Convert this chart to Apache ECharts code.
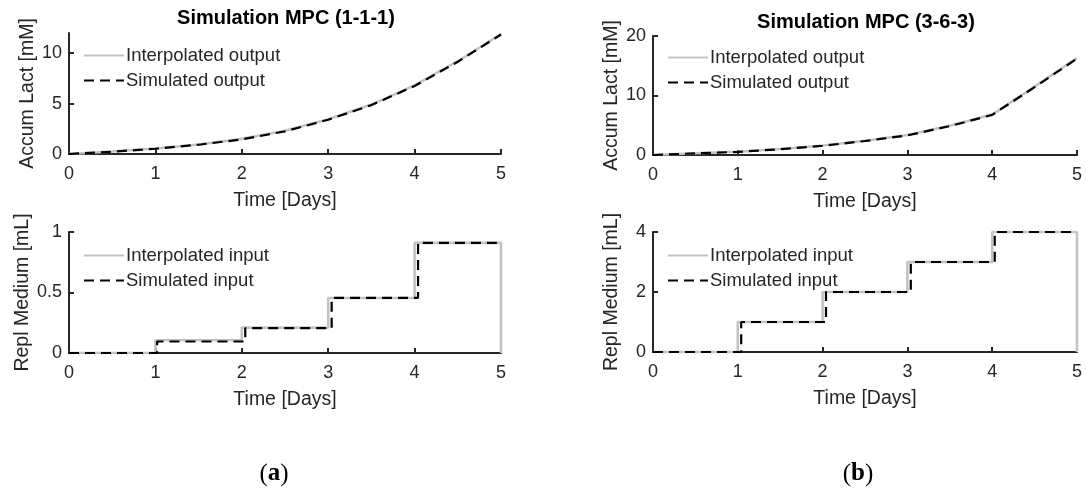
<!DOCTYPE html>
<html>
<head>
<meta charset="utf-8">
<script src="https://cdn.jsdelivr.net/npm/echarts@6/dist/echarts.min.js"></script>
<style>html,body{margin:0;padding:0;background:#fff}#c{width:1086px;height:490px}</style>
</head>
<body>
<div id="c"></div>
<script>
// ---- data ----
const days = [0, 0.5, 1, 1.5, 2, 2.5, 3, 3.5, 4, 4.5, 5];
const interpOutA = [0, 0.25, 0.55, 0.95, 1.5, 2.3, 3.45, 4.9, 6.8, 9.2, 11.9];
const simOutA    = [0, 0.23, 0.52, 0.92, 1.45, 2.25, 3.4, 4.85, 6.75, 9.15, 11.85];
const interpOutB = [0, 0.3, 0.55, 1.0, 1.6, 2.4, 3.35, 4.9, 6.8, 11.5, 16.3];
const simOutB    = [0, 0.28, 0.52, 0.97, 1.55, 2.35, 3.3, 4.85, 6.75, 11.4, 16.2];

const interpInDays = [0, 1, 2, 3, 4, 5, 5];
const interpInA = [0, 0.105, 0.21, 0.455, 0.91, 0.91, 0];
const simInDaysA = [0, 1.02, 2.04, 3.04, 4.04, 5];
const simInA = [0, 0.095, 0.205, 0.455, 0.91, 0.91];
const interpInB = [0, 1, 2, 3, 4, 4, 0];
const simInDaysB = [0, 1.04, 2.04, 3.04, 4.03, 5];
const simInB = [0, 1, 2, 3, 4, 4];

const xTicks = [0, 1, 2, 3, 4, 5];
const yTicksOutA = [0, 5, 10];
const yTicksInA = [0, 0.5, 1];
const yTicksOutB = [0, 10, 20];
const yTicksInB = [0, 2, 4];

const titles = ['Simulation MPC (1-1-1)', 'Simulation MPC (3-6-3)'];
const captions = ['a', 'b'];

// ---- styles ----
const FONT = 'Liberation Sans';
const TXT = '#262626';
const GRAY = '#c3c3c3';
const zip = (xs, ys) => xs.map((x, i) => [x, ys[i]]);

function xAx(gi) {
  return {
    type: 'value', gridIndex: gi, min: 0, max: 5, interval: 1,
    name: 'Time [Days]', nameLocation: 'middle', nameGap: 37,
    nameTextStyle: { fontFamily: FONT, fontSize: 19.5, color: TXT },
    axisLine: { show: true, onZero: false, lineStyle: { color: TXT, width: 2 } },
    axisTick: { show: true, inside: true, length: 5, lineStyle: { color: TXT, width: 2 },
      customValues: xTicks },
    axisLabel: { fontFamily: FONT, fontSize: 18, color: TXT, margin: 11, customValues: xTicks },
    splitLine: { show: false }
  };
}
function yAx(gi, name, max, ticks) {
  return {
    type: 'value', gridIndex: gi, min: 0, max: max,
    name: name, nameLocation: 'middle', nameGap: 31,
    nameTextStyle: { fontFamily: FONT, fontSize: 19.5, color: TXT },
    axisLine: { show: true, onZero: false, lineStyle: { color: TXT, width: 2 } },
    axisTick: { show: true, inside: true, length: 5, lineStyle: { color: TXT, width: 2 },
      customValues: ticks },
    axisLabel: { fontFamily: FONT, fontSize: 18, color: TXT, margin: 7, customValues: ticks },
    splitLine: { show: false }
  };
}
function interpSeries(name, gi, data, step) {
  return { type: 'line', name: name, xAxisIndex: gi, yAxisIndex: gi, data: data,
    step: step ? 'end' : false, symbol: 'none', smooth: false, animation: false,
    lineStyle: { color: GRAY, width: 2.6, type: 'solid' }, itemStyle: { color: GRAY }, z: 2 };
}
function simSeries(name, gi, data, step) {
  return { type: 'line', name: name, xAxisIndex: gi, yAxisIndex: gi, data: data,
    step: step ? 'end' : false, symbol: 'none', smooth: false, animation: false,
    lineStyle: { color: '#000', width: 2.2, type: [10, 6] }, itemStyle: { color: '#000' }, z: 3 };
}
function legend(left, top, names) {
  return { left: left, top: top, orient: 'vertical', itemWidth: 40, itemHeight: 14, itemGap: 6,
    padding: 0, data: names,
    itemStyle: { opacity: 0 },
    textStyle: { fontFamily: FONT, fontSize: 18.5, color: TXT, padding: [0, 0, 0, -3] },
    selectedMode: false };
}

const option = {
  animation: false,
  grid: [
    { left: 69, top: 33, width: 432, height: 121 },
    { left: 69, top: 232, width: 432, height: 121 },
    { left: 653, top: 36, width: 424, height: 119 },
    { left: 653, top: 232, width: 424, height: 120 }
  ],
  xAxis: [xAx(0), xAx(1), xAx(2), xAx(3)],
  yAxis: [
    yAx(0, 'Accum Lact [mM]', 12, yTicksOutA),
    yAx(1, 'Repl Medium [mL]', 1, yTicksInA),
    yAx(2, 'Accum Lact [mM]', 20, yTicksOutB),
    yAx(3, 'Repl Medium [mL]', 4, yTicksInB)
  ],
  legend: [
    legend(83, 46, ['Interpolated output', 'Simulated output']),
    legend(83, 246, ['Interpolated input', 'Simulated input']),
    legend(667, 48, ['Interpolated output', 'Simulated output']),
    legend(667, 246, ['Interpolated input', 'Simulated input'])
  ],
  series: [
    interpSeries('Interpolated output', 0, zip(days, interpOutA), false),
    simSeries('Simulated output', 0, zip(days, simOutA), false),
    interpSeries('Interpolated input', 1, zip(interpInDays, interpInA), true),
    simSeries('Simulated input', 1, zip(simInDaysA, simInA), true),
    interpSeries('Interpolated output', 2, zip(days, interpOutB), false),
    simSeries('Simulated output', 2, zip(days, simOutB), false),
    interpSeries('Interpolated input', 3, zip(interpInDays, interpInB), true),
    simSeries('Simulated input', 3, zip(simInDaysB, simInB), true)
  ],
  graphic: [
    { type: 'text', x: 286, y: 18, style: { text: titles[0], align: 'center', verticalAlign: 'middle',
      font: 'bold 20px "Liberation Sans"', fill: '#000' } },
    { type: 'text', x: 866, y: 22, style: { text: titles[1], align: 'center', verticalAlign: 'middle',
      font: 'bold 20px "Liberation Sans"', fill: '#000' } },
    { type: 'text', x: 274, y: 474, style: { text: '{p|(}{b|' + captions[0] + '}{p|)}', align: 'center', verticalAlign: 'middle',
      rich: { p: { fontFamily: 'Liberation Serif', fontSize: 25, fill: '#000' },
              b: { fontFamily: 'Liberation Serif', fontSize: 25, fontWeight: 'bold', fill: '#000' } } } },
    { type: 'text', x: 858, y: 474, style: { text: '{p|(}{b|' + captions[1] + '}{p|)}', align: 'center', verticalAlign: 'middle',
      rich: { p: { fontFamily: 'Liberation Serif', fontSize: 25, fill: '#000' },
              b: { fontFamily: 'Liberation Serif', fontSize: 25, fontWeight: 'bold', fill: '#000' } } } }
  ]
};
const chart = echarts.init(document.getElementById('c'), null, { renderer: 'canvas' });
chart.setOption(option);
</script>
</body>
</html>
